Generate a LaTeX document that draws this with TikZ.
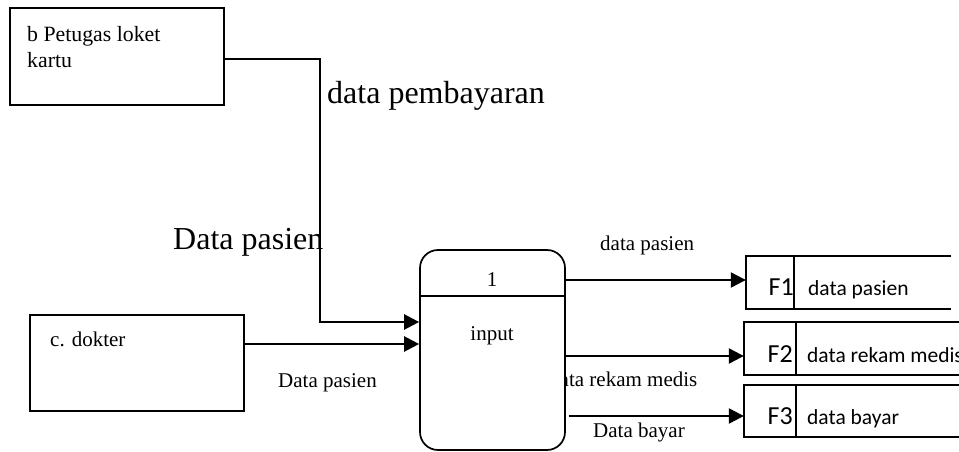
\documentclass[tikz,border=0pt]{standalone}
\usepackage{fontspec}
\setmainfont{Liberation Serif}
\newfontfamily\storefont{Carlito}
\usetikzlibrary{arrows.meta}

\begin{document}
\begin{tikzpicture}[x=1pt,y=-1pt,
  entity/.style={draw,line width=1.7pt,rectangle,inner sep=0pt},
  procbox/.style={draw,line width=1.7pt,fill=white,rectangle,rounded corners=18pt,inner sep=0pt},
  storearea/.style={rectangle,inner sep=0pt},
  storeline/.style={line width=1.7pt},
  flow/.style={line width=2.3pt,-{Triangle[length=15pt,width=15pt]}},
  lbl/.style={inner sep=0pt,anchor=base west,font=\fontsize{21}{26}\selectfont},
  biglbl/.style={inner sep=0pt,anchor=base west,font=\fontsize{32}{38}\selectfont},
  storeid/.style={inner sep=0pt,anchor=base east,font=\storefont\fontsize{26}{30}\selectfont},
  storename/.style={inner sep=0pt,anchor=base west,font=\storefont\fontsize{21.5}{25}\selectfont}]

\useasboundingbox (0,0) rectangle (959,452);

% external entities
\node[entity,minimum width=214pt,minimum height=97pt] (b) at (117,56.5) {};
\node[lbl,font=\fontsize{21.8}{26}\selectfont] (bt1) at (27,42) {b Petugas loket};
\node[lbl,font=\fontsize{21.8}{26}\selectfont] (bt2) at (27,68) {kartu};

\node[entity,minimum width=214pt,minimum height=96pt] (c) at (137,363) {};
\node[lbl] (ct) at (50,346) {c. dokter};

% flow labels (the one under the process is partly hidden by it)
\node[biglbl] (lpay) at (327,103) {data pembayaran};
\node[biglbl] (lpas1) at (173,249) {Data pasien};
\node[lbl] (lpas2) at (278,387) {Data pasien};
\node[lbl] (lout1) at (600,250) {data pasien};
\node[lbl] (lout2) at (549,386) {data rekam medis};
\node[lbl] (lout3) at (593,437) {Data bayar};

% process
\node[procbox,minimum width=145pt,minimum height=200pt] (p) at (492.5,350) {};
\draw[storeline] ([yshift=-47pt]p.north west) -- ([yshift=-47pt]p.north east);
\node[lbl,anchor=base] (pnum) at (492,286) {1};
\node[lbl,anchor=base] (pname) at (492,340) {input};

% data stores (open on the right)
\node[storearea,minimum width=205pt,minimum height=53pt] (s1) at (848.5,282.5) {};
\node[storearea,minimum width=220pt,minimum height=53pt] (s2) at (854,348.5) {};
\node[storearea,minimum width=220pt,minimum height=52pt] (s3) at (854,411) {};
\foreach \s/\d in {s1/794,s2/796,s3/796}{
  \draw[storeline] (\s.north east) -- (\s.north west) -- (\s.south west) -- (\s.south east);
  \draw[storeline] (\s.north west -| \d,0) -- (\s.south west -| \d,0);
}
\node[storeid] (f1) at (794,295) {F1};
\node[storename] (n1) at (808,295) {data pasien};
\node[storeid] (f2) at (793,362) {F2};
\node[storename] (n2) at (807,362) {data rekam medis};
\node[storeid] (f3) at (793,424) {F3};
\node[storename] (n3) at (807,424) {data bayar};

% inputs
\coordinate (bend) at (320,322);
\draw[flow] (b.east |- 0,59) -| (bend) -- (bend -| p.west);
\draw[flow] (c.east |- 0,344) -- (p.west |- 0,344);

% outputs
\draw[flow] (p.east |- 0,280) -- (s1.west |- 0,280);
\draw[flow] (p.east |- 0,356) -- (s2.west |- 0,356);
\draw[flow] ([xshift=3pt]p.east |- 0,416) -- (s3.west |- 0,416);
\end{tikzpicture}
\end{document}
